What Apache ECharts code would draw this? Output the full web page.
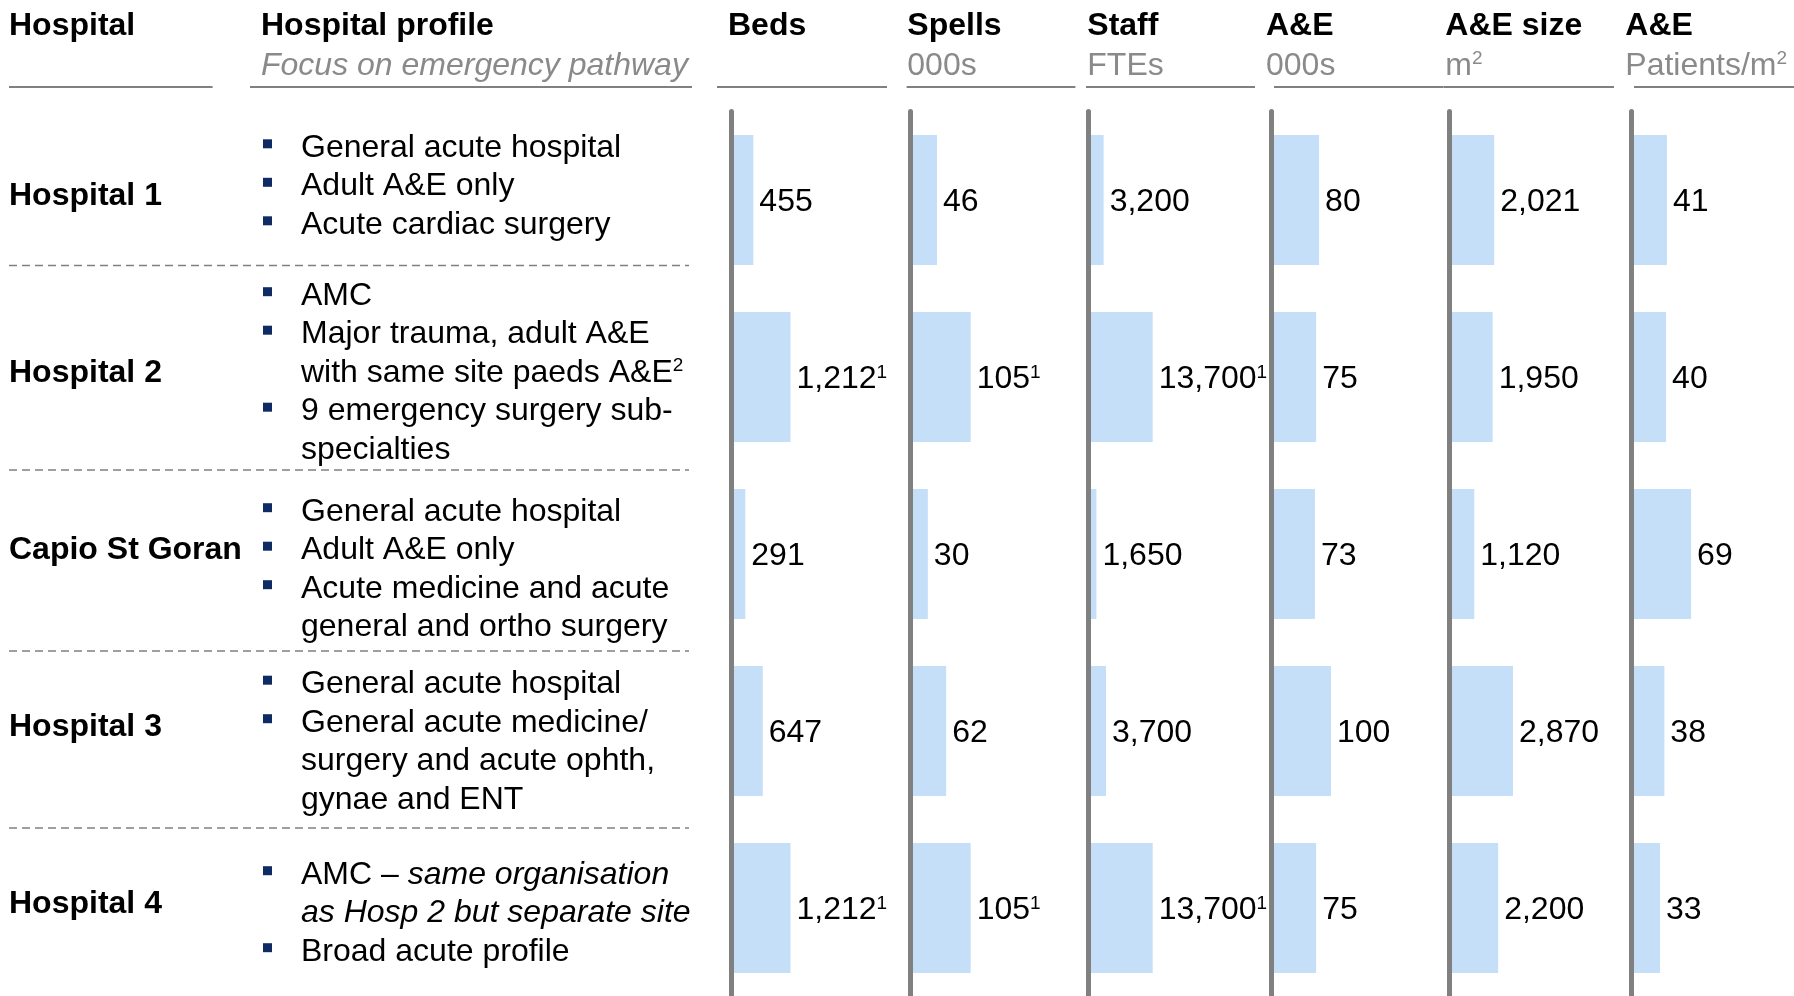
<!DOCTYPE html>
<html><head><meta charset="utf-8">
<script src="https://cdn.jsdelivr.net/npm/echarts@6/dist/echarts.min.js"></script>
<style>html,body{margin:0;padding:0;background:#fff}#chart{width:1794px;height:996px}</style>
</head><body><div id="chart"></div>
<script>
// ---------- data ----------
const hospitals = ['Hospital 1', 'Hospital 2', 'Capio St Goran', 'Hospital 3', 'Hospital 4'];
const beds = [455, 1212, 291, 647, 1212];
const spells = [46, 105, 30, 62, 105];
const staff = [3200, 13700, 1650, 3700, 13700];
const aeAttendances = [80, 75, 73, 100, 75];
const aeSize = [2021, 1950, 1120, 2870, 2200];
const aeDensity = [41, 40, 69, 38, 33];
const sharedSiteFootnote = ['', '1', '', '', '1']; // footnote 1 on beds/spells/staff
const metricTitles = ['Beds', 'Spells', 'Staff', 'A&E', 'A&E size', 'A&E'];
const metricUnits = ['', '000s', 'FTEs', '000s', 'm{sup|2}', 'Patients/m{sup|2}'];
const metricHasFootnote = [true, true, true, false, false, false];
const profiles = [
  [['General acute hospital'], ['Adult A&E only'], ['Acute cardiac surgery']],
  [['AMC'], ['Major trauma, adult A&E', 'with same site paeds A&E{sup|2}'], ['9 emergency surgery sub-', 'specialties']],
  [['General acute hospital'], ['Adult A&E only'], ['Acute medicine and acute', 'general and ortho surgery']],
  [['General acute hospital'], ['General acute medicine/', 'surgery and acute ophth,', 'gynae and ENT']],
  [['AMC – {it|same organisation}', '{it|as Hosp 2 but separate site}'], ['Broad acute profile']]
];
const metrics = [beds, spells, staff, aeAttendances, aeSize, aeDensity];

// ---------- layout / style ----------
const FONT = 'Liberation Sans, Arial, Helvetica, sans-serif';
const GRAY = '#808080';
const BAR = '#c6dff8';
const NAVY = '#0f2b63';
const colLeft = [731, 910.7, 1088.7, 1271.5, 1449.5, 1631.6];
const colWidth = [59.5, 60, 64, 59.5, 63.5, 59.5];
const headX = [728, 907.3, 1087.3, 1266, 1445.3, 1625.3];
const gridTop = 111.5, gridHeight = 885;
const profileFirstLine = [145.8, 293.7, 509.7, 682.2, 872.7];
const lineStep = 38.5;
const textShift = 2.3;
const separatorsY = [265.5, 470, 651, 828];
const underlines = [[9, 212.6], [250, 692], [717, 887], [906.6, 1075.4], [1086, 1255], [1274, 1443.5], [1443.5, 1614], [1634, 1794]];

const fmt = v => v.toLocaleString('en-US');
const supRich = { fontSize: 19, lineHeight: 19, verticalAlign: 'top', fontFamily: FONT, fill: '#000', color: '#000' };

const grids = [], xAxes = [], yAxes = [], series = [];
metrics.forEach((vals, i) => {
  grids.push({ left: colLeft[i], width: colWidth[i], top: gridTop, height: gridHeight, containLabel: false, outerBoundsMode: 'none' });
  xAxes.push({ type: 'value', gridIndex: i, min: 0, max: 'dataMax', show: false });
  yAxes.push({
    type: 'category', gridIndex: i, data: hospitals, inverse: true, z: 5,
    axisLine: { show: true, lineStyle: { color: GRAY, width: 5 } },
    axisTick: { show: false }, splitLine: { show: false },
    axisLabel: i === 0 ? {
      show: true, interval: 0, margin: 722, align: 'left', verticalAlign: 'bottom', lineHeight: 8,
      fontFamily: FONT, fontSize: 32, fontWeight: 'bold', color: '#000'
    } : { show: false }
  });
  series.push({
    type: 'bar', xAxisIndex: i, yAxisIndex: i, data: vals, barWidth: 130,
    itemStyle: { color: BAR }, silent: true,
    label: {
      show: true, position: 'right', distance: 6, offset: [0, 2.3],
      formatter: p => '{v|' + fmt(p.value) + '}' +
        (metricHasFootnote[i] && sharedSiteFootnote[p.dataIndex] ? '{s|' + sharedSiteFootnote[p.dataIndex] + '}' : ''),
      rich: {
        v: { fontSize: 32, lineHeight: 32, fontFamily: FONT, color: '#000' },
        s: { fontSize: 19, lineHeight: 19, verticalAlign: 'top', fontFamily: FONT, color: '#000' }
      }
    }
  });
});

const graphics = [];
function txt(x, y, text, opts) {
  graphics.push({
    type: 'text', silent: true,
    style: Object.assign({
      x: x, y: y + textShift, text: text, fontFamily: FONT, fontSize: 32, fill: '#000',
      align: 'left', verticalAlign: 'middle', textAlign: 'left', textVerticalAlign: 'middle', lineHeight: 34,
      rich: {
        sup: supRich,
        it: { fontStyle: 'italic', fontSize: 32, fontFamily: FONT, fill: '#000', lineHeight: 34 }
      }
    }, opts || {})
  });
}
// headers
txt(9, 23.5, 'Hospital', { fontWeight: 'bold' });
txt(261, 23.5, 'Hospital profile', { fontWeight: 'bold' });
txt(261, 64, 'Focus on emergency pathway', { fontStyle: 'italic', fill: '#8a8a8a' });
metricTitles.forEach((t, i) => txt(headX[i], 23.5, t, { fontWeight: 'bold' }));
metricUnits.forEach((t, i) => {
  if (t) txt(headX[i], 64, t, {
    fill: '#8a8a8a',
    rich: { sup: Object.assign({}, supRich, { fill: '#8a8a8a', color: '#8a8a8a' }) }
  });
});
underlines.forEach(u => graphics.push({
  type: 'line', silent: true,
  shape: { x1: u[0], y1: 87, x2: u[1], y2: 87 },
  style: { stroke: GRAY, lineWidth: 2 }
}));
separatorsY.forEach(y => graphics.push({
  type: 'line', silent: true,
  shape: { x1: 9, y1: y, x2: 689, y2: y },
  style: { stroke: GRAY, lineWidth: 1.5, lineDash: [8, 5] }
}));
// profile bullets
profiles.forEach((bullets, r) => {
  let line = 0;
  bullets.forEach(b => {
    b.forEach((l, k) => {
      const y = profileFirstLine[r] + line * lineStep;
      if (k === 0) graphics.push({
        type: 'rect', silent: true,
        shape: { x: 263, y: y - 6.5, width: 9, height: 9 },
        style: { fill: NAVY }
      });
      txt(301, y, l);
      line++;
    });
  });
});

const chart = echarts.init(document.getElementById('chart'), null, { renderer: 'canvas' });
chart.setOption({
  animation: false,
  backgroundColor: '#fff',
  grid: grids, xAxis: xAxes, yAxis: yAxes, series: series,
  graphic: { elements: graphics }
});
</script></body></html>
